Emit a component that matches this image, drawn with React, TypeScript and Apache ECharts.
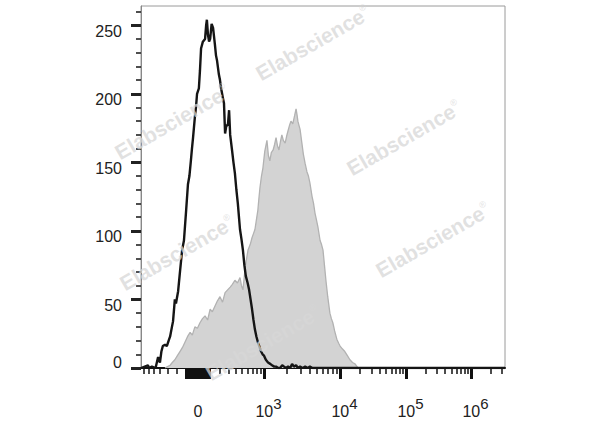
import React, { useEffect, useRef } from "react";
import * as echarts from "echarts";

// Control (black line): display channel (0-1000) vs. count
const blackX = [0, 19, 22, 30, 40, 47, 52, 56, 60, 66, 71, 76, 80, 85, 88, 93, 96, 102, 107, 113, 118, 124, 129, 133, 137, 140, 143, 148, 151, 154, 159, 162, 165, 170, 176, 179, 181, 184, 187, 190, 194, 198, 203, 206, 209, 214, 217, 220, 225, 228, 231, 234, 239, 242, 245, 250, 254, 258, 262, 266, 272, 276, 280, 284, 288, 293, 297, 301, 305, 309, 313, 317, 321, 326, 330, 334, 338, 343, 349, 355, 360, 366, 371, 377, 382, 388, 393, 398, 404, 410, 415, 420, 426, 431, 437, 444, 451, 458, 464, 471, 478, 490, 1000];
const blackY = [0, 2, 0, 1, 0, 8, 4, 12, 16, 17, 16, 20, 23, 30, 34, 50, 47, 56, 70, 86, 93, 115, 134, 140, 151, 160, 168, 183, 190, 200, 204, 217, 233, 238, 240, 250, 254, 243, 238, 240, 251, 248, 236, 228, 224, 214, 210, 204, 197, 193, 171, 176, 178, 188, 170, 159, 150, 142, 130, 120, 101, 94, 86, 75, 67, 62, 57, 50, 43, 35, 28, 23, 19, 15, 12, 10, 9, 6, 4, 3, 2, 1, 1, 0, 0, 2, 1, 0, 1, 0, 3, 1, 2, 0, 1, 0, 1, 0, 1, 0, 0, 0, 0];

// Stained sample (grey filled)
const greyX = [66, 73, 80, 86, 93, 100, 107, 114, 121, 128, 135, 141, 148, 155, 162, 169, 176, 183, 190, 196, 203, 210, 217, 224, 231, 238, 245, 251, 258, 265, 272, 276, 280, 287, 294, 300, 305, 309, 313, 317, 321, 324, 327, 331, 335, 340, 343, 346, 350, 354, 358, 363, 367, 371, 375, 379, 383, 387, 391, 396, 400, 404, 408, 412, 417, 422, 426, 429, 431, 434, 437, 442, 446, 451, 456, 460, 464, 470, 474, 478, 482, 486, 492, 496, 500, 504, 508, 513, 519, 523, 527, 532, 538, 543, 547, 553, 560, 567, 574, 581, 588, 596];
const greyY = [0, 1, 2, 4, 6, 9, 12, 15, 19, 23, 26, 24, 30, 29, 33, 36, 38, 35, 43, 41, 45, 49, 52, 48, 55, 57, 59, 61, 64, 62, 66, 60, 57, 75, 86, 90, 95, 98, 101, 108, 115, 124, 132, 140, 146, 158, 162, 166, 155, 151, 157, 159, 163, 168, 162, 159, 165, 170, 166, 164, 169, 173, 177, 180, 178, 184, 189, 184, 180, 177, 174, 164, 156, 149, 143, 140, 135, 125, 120, 113, 108, 103, 93, 90, 86, 75, 64, 52, 40, 36, 33, 27, 21, 18, 16, 14, 12, 9, 6, 4, 3, 0];

// Axis: y counts
const yMax = 264;
const yInterval = 50;
const yMinorValues = [10, 20, 30, 40, 60, 70, 80, 90, 110, 120, 130, 140, 160, 170, 180, 190, 210, 220, 230, 240, 260];

// x axis (biexponential display): labelled values and their texts
const xLabelValues = [0, 1e3, 1e4, 1e5, 1e6];
const xLabelTexts = ["0", "10^3", "10^4", "10^5", "10^6"];
const xMinorValues = [
  -900, -800, -700, -600, -500, -400, -300, -200,
  200, 300, 400, 500, 600, 700, 800, 900,
  2e3, 3e3, 4e3, 5e3, 6e3, 7e3, 8e3, 9e3,
  2e4, 3e4, 4e4, 5e4, 6e4, 7e4, 8e4, 9e4,
  2e5, 3e5, 4e5, 5e5, 6e5, 7e5, 8e5, 9e5,
  2e6, 3e6, 4e6,
];
const xZeroBlock = [-100, -90, -80, -70, -60, -50, -40, -30, -20, -10, 0, 10, 20, 30, 40, 50, 60, 70, 80, 90, 100];

// display scale: channel of zero and of each decade
const zeroChannel = 156.6;
const decadeChannels: [number, number][] = [[3, 337.9], [4, 546.7], [5, 728.0], [6, 906.6]];
const linWidth = 300;

function toChannel(v: number): number {
  const c1000 = decadeChannels[0][1];
  if (v < 1000) {
    return zeroChannel + (c1000 - zeroChannel) * Math.asinh(v / linWidth) / Math.asinh(1000 / linWidth);
  }
  const l = Math.log10(v);
  for (let i = 0; i < decadeChannels.length - 1; i++) {
    const [a, ca] = decadeChannels[i];
    const [b, cb] = decadeChannels[i + 1];
    if (l <= b) return ca + (cb - ca) * (l - a) / (b - a);
  }
  const n = decadeChannels.length;
  const [a, ca] = decadeChannels[n - 2];
  const [b, cb] = decadeChannels[n - 1];
  return cb + (cb - ca) * (l - b) / (b - a);
}

const inRange = (c: number) => c >= 0 && c <= 1000;

const font = "'Liberation Sans', Arial, Helvetica, sans-serif";

function watermark(x: number, y: number) {
  return {
    type: "text",
    x,
    y,
    rotation: Math.PI / 6,
    z: 100,
    silent: true,
    style: {
      text: "{a|Elabscience}{r|®}",
      align: "center",
      verticalAlign: "middle",
      rich: {
        a: { fontSize: 21, fontWeight: "bold", fontFamily: font, fill: "rgba(215,215,215,0.75)" },
        r: { fontSize: 9, fontFamily: font, fill: "rgba(215,215,215,0.75)", verticalAlign: "top", lineHeight: 10 },
      },
    },
  };
}

const watermarkPos: [number, number][] = [
  [313, 43], [172, 122], [404, 138], [177, 253], [433, 240], [263, 343],
];

export default function App() {
  const ref = useRef<HTMLDivElement>(null);
  useEffect(() => {
    if (!ref.current) return;
    const chart = echarts.init(ref.current, undefined, { renderer: "svg" });
    const majorCh = xLabelValues.map(toChannel).filter(inRange);
    const blockCh = xZeroBlock.map(toChannel).filter(inRange);
    const minorCh = xMinorValues.map(toChannel).filter(inRange);
    const labelCh = xLabelValues.map(toChannel);
    const option: any = {
      animation: false,
      backgroundColor: "#fff",
      grid: {
        left: 141, right: 95, top: 6, bottom: 59,
        show: true, borderColor: "#9a9a9a", borderWidth: 1,
      },
      xAxis: [
        {
          type: "value", min: 0, max: 1000,
          splitLine: { show: false },
          axisLine: { show: true, lineStyle: { color: "#111", width: 2 } },
          axisTick: { show: true, customValues: [...majorCh, ...blockCh], length: 11, lineStyle: { color: "#111", width: 3 } },
          axisLabel: {
            show: true,
            customValues: labelCh,
            margin: 28,
            formatter: (v: number) => {
              let best = 0;
              labelCh.forEach((c, i) => { if (Math.abs(c - v) < Math.abs(labelCh[best] - v)) best = i; });
              const t = xLabelTexts[best];
              if (t.indexOf("^") < 0) return "{b|" + t + "}";
              const [base, exp] = t.split("^");
              return "{p|\u00a0}{b|" + base + "}{s|" + exp + "}";
            },
            rich: {
              b: { fontSize: 16, lineHeight: 30, fontFamily: font, color: "#222" },
              s: { fontSize: 15, lineHeight: 12, verticalAlign: "top", fontFamily: font, color: "#222" },
              p: { width: 9, fontSize: 15, lineHeight: 12 },
            },
          },
        },
        {
          type: "value", min: 0, max: 1000, position: "bottom",
          splitLine: { show: false },
          axisLine: { show: false },
          axisTick: { show: true, customValues: minorCh, length: 6, lineStyle: { color: "#111", width: 1.5 } },
          axisLabel: { show: false },
        },
      ],
      yAxis: [
        {
          type: "value", min: 0, max: yMax, interval: yInterval,
          splitLine: { show: false },
          axisLine: { show: true, lineStyle: { color: "#888", width: 1 } },
          axisTick: { show: true, length: 10, lineStyle: { color: "#222", width: 3 } },
          axisLabel: {
            margin: 19,
            showMaxLabel: false,
            formatter: (v: number) => (v === 0 ? "{z|0}" : "{n|" + v + "}"),
            rich: {
              n: { fontSize: 16, fontFamily: font, color: "#222", padding: [12, 0, 0, 0] },
              z: { fontSize: 16, fontFamily: font, color: "#222", padding: [0, 0, 12, 0] },
            },
          },
        },
        {
          type: "value", min: 0, max: yMax, position: "left",
          splitLine: { show: false },
          axisLine: { show: false },
          axisTick: { show: true, customValues: yMinorValues, length: 5, lineStyle: { color: "#222", width: 1.6 } },
          axisLabel: { show: false },
        },
      ],
      series: [
        {
          type: "line",
          data: greyX.map((x, i) => [x, greyY[i]]),
          showSymbol: false,
          lineStyle: { color: "#b2b2b2", width: 1.3 },
          areaStyle: { color: "#d3d3d3", opacity: 1 },
          z: 2,
        },
        {
          type: "line",
          data: blackX.map((x, i) => [x, blackY[i]]),
          showSymbol: false,
          lineStyle: { color: "#151515", width: 2.4 },
          z: 3,
        },
      ],
      graphic: watermarkPos.map(([x, y]) => watermark(x, y)),
    };
    chart.setOption(option);
    return () => chart.dispose();
  }, []);
  return <div ref={ref} style={{ width: 600, height: 427, position: "absolute", left: 0, top: 0 }} />;
}
